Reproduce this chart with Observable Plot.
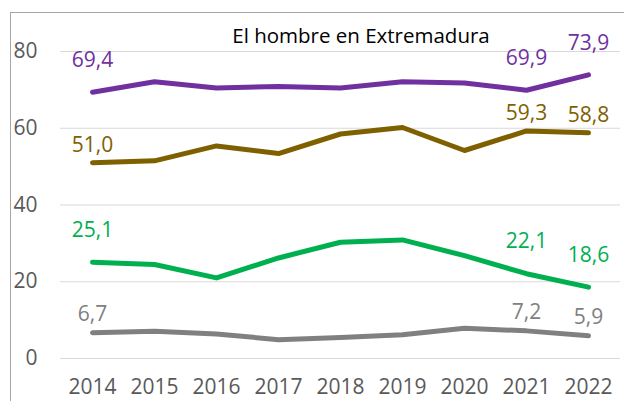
<!DOCTYPE html>
<html>
<head>
<meta charset="utf-8">
<script src="https://cdn.jsdelivr.net/npm/d3@7"></script>
<script src="https://cdn.jsdelivr.net/npm/@observablehq/plot@0.6"></script>
<style>
  html, body { margin: 0; padding: 0; background: #fff; }
  #wrap { position: relative; width: 624px; height: 401px; overflow: hidden; font-family: "Open Sans", sans-serif; }
  #frame { position: absolute; left: 10px; top: 12px; width: 640px; height: 420px; border-left: 1px solid #a6a6a6; border-top: 1px solid #a6a6a6; box-sizing: border-box; }
  #title { position: absolute; left: 0; width: 722px; top: 21px; text-align: center; font-size: 20.5px; color: #000; line-height: 28px; }
  #chart { position: absolute; left: 0; top: 0; }
</style>
</head>
<body>
<div id="wrap">
  <div id="frame"></div>
  <div id="chart"></div>
  <div id="title">El hombre en Extremadura</div>
</div>
<script>
const years = [2014, 2015, 2016, 2017, 2018, 2019, 2020, 2021, 2022];
const purpleValues = [69.4, 72.1, 70.5, 70.9, 70.5, 72.1, 71.8, 69.9, 73.9];
const brownValues  = [51.0, 51.5, 55.4, 53.4, 58.5, 60.2, 54.2, 59.3, 58.8];
const greenValues  = [25.1, 24.5, 21.0, 26.2, 30.3, 30.9, 26.8, 22.1, 18.6];
const grayValues   = [6.7, 7.1, 6.4, 4.9, 5.5, 6.2, 7.9, 7.2, 5.9];
const labeledYears = [2014, 2021, 2022];
const yTicks = [0, 20, 40, 60, 80];

const seriesList = [
  {name: "s1", values: purpleValues, color: "#7030A0", dy: -32},
  {name: "s2", values: brownValues,  color: "#7F6000", dy: -18},
  {name: "s3", values: greenValues,  color: "#00B050", dy: -32},
  {name: "s4", values: grayValues,   color: "#808080", dy: -19}
];

const fmt = v => v.toFixed(1).replace(".", ",");

const marks = [
  Plot.ruleY(yTicks, {stroke: "#d9d9d9", strokeWidth: 1}),
  Plot.axisY({ticks: yTicks, tickSize: 0, tickPadding: 23, fontSize: 21, color: "#595959", label: null}),
  Plot.axisX({tickSize: 0, tickPadding: 21, fontSize: 21, color: "#595959", label: null, tickFormat: d => String(d)})
];

for (const s of seriesList) {
  const data = years.map((y, i) => ({year: y, value: s.values[i]}));
  marks.push(Plot.line(data, {x: "year", y: "value", stroke: s.color, strokeWidth: 5, strokeLinecap: "round", strokeLinejoin: "round"}));
  marks.push(Plot.text(data.filter(d => labeledYears.includes(d.year)), {
    x: "year", y: "value", text: d => fmt(d.value), fill: s.color, dy: s.dy, fontSize: 21
  }));
}

const chart = Plot.plot({
  width: 624,
  height: 401,
  marginLeft: 60,
  marginRight: 4,
  marginTop: 51,
  marginBottom: 43,
  style: {fontFamily: "Open Sans, sans-serif", background: "transparent", overflow: "visible"},
  x: {type: "point", domain: years, padding: 0.5},
  y: {domain: [0, 80]},
  marks
});
document.getElementById("chart").appendChild(chart);
</script>
</body>
</html>
